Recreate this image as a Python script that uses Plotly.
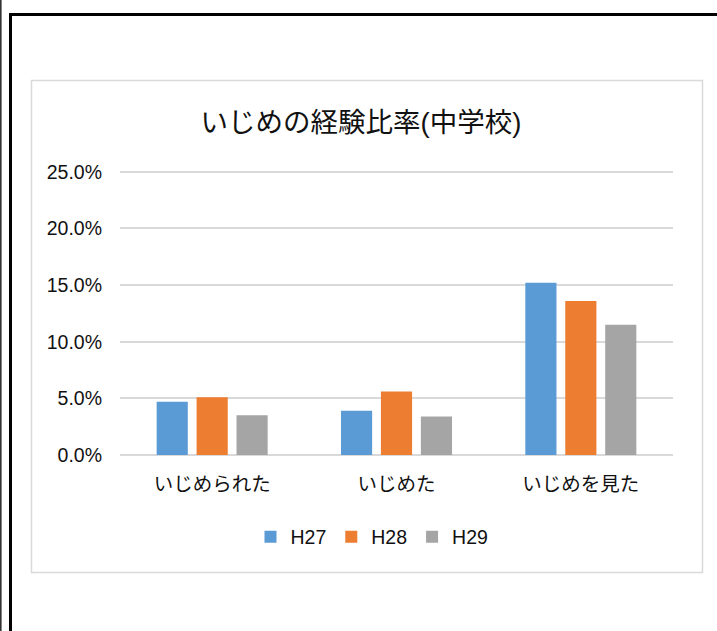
import plotly.graph_objects as go

categories = ["いじめられた", "いじめた", "いじめを見た"]
series_names = ["H27", "H28", "H29"]
h27 = [0.047, 0.039, 0.152]
h28 = [0.051, 0.056, 0.136]
h29 = [0.035, 0.034, 0.115]
series_values = [h27, h28, h29]
colors = ["#5B9BD5", "#ED7D31", "#A5A5A5"]
y_ticks = [0, 0.05, 0.10, 0.15, 0.20, 0.25]
y_tick_labels = ["0.0%", "5.0%", "10.0%", "15.0%", "20.0%", "25.0%"]
title_text = "いじめの経験比率(中学校)"

W, H = 717, 631
L, R, T, B = 120, 44, 169, 176
PW, PH = W - L - R, H - T - B

FONT = "Liberation Sans, Arial, 'Noto Sans CJK JP', sans-serif"


def px(x):
    return (x - L) / PW


def py(y):
    return (H - B - y) / PH


fig = go.Figure()
for name, vals, c in zip(series_names, series_values, colors):
    fig.add_trace(go.Bar(name=name, x=categories, y=vals, marker_color=c,
                         marker_line_width=0))

shapes = [
    # thin line at far left
    dict(type="line", xref="paper", yref="paper", x0=px(0.8), x1=px(0.8),
         y0=py(-5), y1=py(640), line=dict(color="#333333", width=1.6)),
    # outer black frame
    dict(type="rect", xref="paper", yref="paper", x0=px(10.5), x1=px(740),
         y0=py(14.5), y1=py(660), line=dict(color="#000000", width=3)),
    # inner chart box
    dict(type="rect", xref="paper", yref="paper", x0=px(31.5), x1=px(702.5),
         y0=py(80.5), y1=py(572.5), line=dict(color="#D9D9D9", width=1.5)),
]

fig.update_layout(
    width=W, height=H,
    margin=dict(l=L, r=R, t=T, b=B),
    paper_bgcolor="white", plot_bgcolor="white",
    font=dict(family=FONT, color="#111111", size=19.5),
    title=dict(text=title_text, x=361 / W, xanchor="center",
               y=1 - 122 / H, yanchor="middle",
               font=dict(size=27.5, family=FONT, color="#111111")),
    barmode="group", bargap=0.35, bargroupgap=0.22,
    showlegend=True,
    legend=dict(orientation="h", xref="container", yref="container",
                x=372 / W, xanchor="center", y=1 - 537 / H, yanchor="middle",
                font=dict(size=19.5), itemwidth=30,
                traceorder="normal"),
    shapes=shapes,
    xaxis=dict(showline=False, ticks="", ticklabelstandoff=15,
               tickfont=dict(size=19.5)),
    yaxis=dict(range=[0, 0.2525], tickvals=y_ticks, ticktext=y_tick_labels,
               showgrid=True, gridcolor="#D9D9D9", gridwidth=1.5,
               zeroline=True, zerolinecolor="#D9D9D9", zerolinewidth=1.5,
               showline=False, ticks="", ticklabelstandoff=17,
               tickfont=dict(size=19.5)),
)

fig.write_html("out.html", config={"displayModeBar": False},
               post_script="document.body.style.margin='0px';")
